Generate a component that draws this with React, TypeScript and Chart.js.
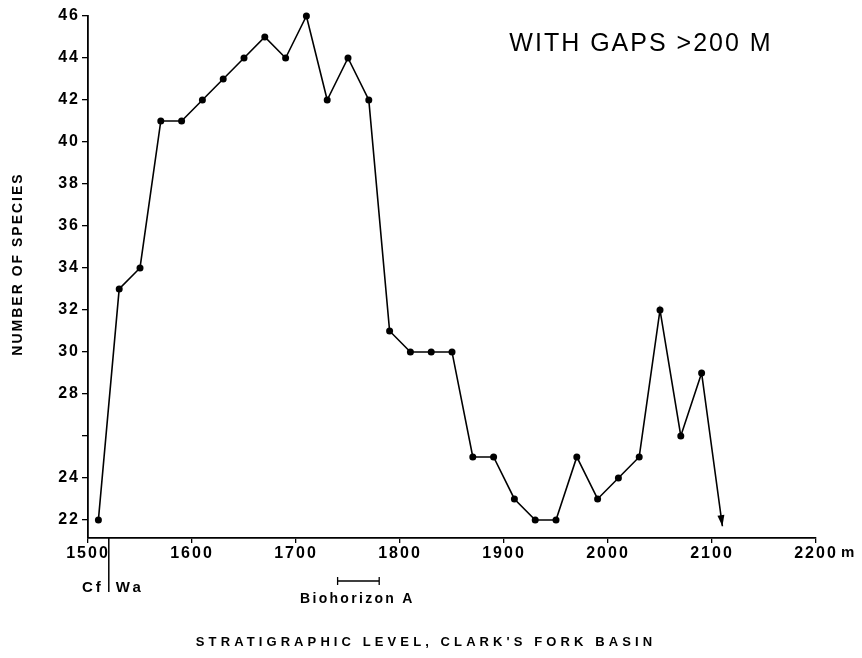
import React, { useEffect, useRef } from "react";
import { Chart, registerables } from "chart.js";
Chart.register(...registerables);

// Stratigraphic level (m) of each sample and number of species
const levels = [1510, 1530, 1550, 1570, 1590, 1610, 1630, 1650, 1670, 1690, 1710, 1730, 1750, 1770, 1790, 1810, 1830, 1850, 1870, 1890, 1910, 1930, 1950, 1970, 1990, 2010, 2030, 2050, 2070, 2090];
const species = [22, 33, 34, 41, 41, 42, 43, 44, 45, 44, 46, 42, 44, 42, 31, 30, 30, 30, 25, 25, 23, 22, 22, 25, 23, 24, 25, 32, 26, 29];
// arrow continuing the series past the last sample
const arrowEndLevel = 2110;
const arrowEndValue = 21.7;

const xTicks = [1500, 1600, 1700, 1800, 1900, 2000, 2100, 2200];
const yTicks = [22, 24, 26, 28, 30, 32, 34, 36, 38, 40, 42, 44, 46];
const yUnlabeled = [26];
const xMin = 1500;
const xMax = 2200;
const yMin = 21.14;
const yMax = 46;

const boundaryLevel = 1520; // Cf | Wa boundary
const biohorizonStart = 1740;
const biohorizonEnd = 1780;

const titleText = "WITH GAPS >200 M";
const xTitle = "STRATIGRAPHIC LEVEL, CLARK'S FORK BASIN";
const yTitle = "NUMBER OF SPECIES";

const FONT = "'Liberation Sans', Arial, Helvetica, sans-serif";

const decor = {
  id: "decor",
  beforeDraw(chart: any) {
    (chart.ctx as any).letterSpacing = "2px";
  },
  afterDraw(chart: any) {
    const { ctx, chartArea } = chart;
    const x = chart.scales.x;
    ctx.save();
    ctx.fillStyle = "#000";
    ctx.strokeStyle = "#000";

    // arrowhead at end of series
    const pts = chart.getDatasetMeta(0).data;
    const last = pts[pts.length - 1];
    const prev = pts[pts.length - 2];
    const ang = Math.atan2(last.y - prev.y, last.x - prev.x);
    const len = 11, hw = 3.5;
    ctx.beginPath();
    ctx.moveTo(last.x, last.y);
    ctx.lineTo(last.x - len * Math.cos(ang) + hw * Math.sin(ang), last.y - len * Math.sin(ang) - hw * Math.cos(ang));
    ctx.lineTo(last.x - len * Math.cos(ang) - hw * Math.sin(ang), last.y - len * Math.sin(ang) + hw * Math.cos(ang));
    ctx.closePath();
    ctx.fill();

    // Cf | Wa boundary
    const bx = x.getPixelForValue(boundaryLevel);
    ctx.lineWidth = 1.5;
    ctx.beginPath();
    ctx.moveTo(bx, chartArea.bottom);
    ctx.lineTo(bx, chartArea.bottom + 54);
    ctx.stroke();
    ctx.font = `bold 15px ${FONT}`;
    (ctx as any).letterSpacing = "3px";
    ctx.textBaseline = "middle";
    ctx.textAlign = "right";
    ctx.fillText("Cf", bx - 5, chartArea.bottom + 50);
    ctx.textAlign = "left";
    ctx.fillText("Wa", bx + 7, chartArea.bottom + 50);

    // Biohorizon A
    const b1 = x.getPixelForValue(biohorizonStart);
    const b2 = x.getPixelForValue(biohorizonEnd);
    const by = chartArea.bottom + 43;
    ctx.lineWidth = 1.3;
    ctx.beginPath();
    ctx.moveTo(b1, by); ctx.lineTo(b2, by);
    ctx.moveTo(b1, by - 4); ctx.lineTo(b1, by + 4);
    ctx.moveTo(b2, by - 4); ctx.lineTo(b2, by + 4);
    ctx.stroke();
    ctx.font = `bold 14px ${FONT}`;
    (ctx as any).letterSpacing = "2.3px";
    ctx.textAlign = "center";
    ctx.fillText("Biohorizon A", (b1 + b2) / 2 - 1, chartArea.bottom + 61);

    // unit "m"
    const ex = x.getPixelForValue(xMax);
    ctx.font = `bold 15px ${FONT}`;
    ctx.textAlign = "left";
    (ctx as any).letterSpacing = "0px";
    ctx.fillText("m", ex + 25, chartArea.bottom + 15);

    // top-right title
    ctx.font = `25px ${FONT}`;
    (ctx as any).letterSpacing = "2px";
    ctx.textAlign = "center";
    ctx.fillText(titleText, 641, 44);

    // x title
    ctx.font = `bold 13px ${FONT}`;
    (ctx as any).letterSpacing = "4.1px";
    ctx.fillText(xTitle, 426, 642);

    // y title
    ctx.save();
    ctx.translate(18, 264);
    ctx.rotate(-Math.PI / 2);
    ctx.font = `bold 14px ${FONT}`;
    (ctx as any).letterSpacing = "2px";
    ctx.fillText(yTitle, 0, 0);
    ctx.restore();

    ctx.restore();
  },
};

export default function App() {
  const ref = useRef<HTMLCanvasElement | null>(null);
  useEffect(() => {
    if (!ref.current) return;
    const data = levels.map((l, i) => ({ x: l, y: species[i] }));
    data.push({ x: arrowEndLevel, y: arrowEndValue });
    const n = data.length;
    const chart = new Chart(ref.current, {
      type: "line",
      data: {
        datasets: [
          {
            data,
            borderColor: "#000",
            backgroundColor: "#000",
            borderWidth: 1.6,
            tension: 0,
            clip: false,
            pointRadius: (c: any) => (c.dataIndex === n - 1 ? 0 : 3.5),
            pointBackgroundColor: "#000",
            pointBorderWidth: 0,
          },
        ],
      },
      options: {
        animation: false,
        responsive: false,
        events: [],
        layout: { padding: { top: 16, right: 46, left: 0, bottom: 0 } },
        plugins: { legend: { display: false }, tooltip: { enabled: false } },
        scales: {
          x: {
            type: "linear",
            min: xMin,
            max: xMax,
            afterBuildTicks: (s: any) => {
              s.ticks = xTicks.map((v) => ({ value: v }));
            },
            afterFit: (s: any) => {
              s.height = 120;
            },
            border: { display: true, color: "#000", width: 1.8 },
            grid: { drawOnChartArea: false, drawTicks: true, tickLength: 5, color: "#000", lineWidth: 1.3 },
            ticks: {
              color: "#000",
              font: { family: FONT, size: 16, weight: "bold" },
              padding: 1,
              maxRotation: 0,
              autoSkip: false,
              callback: (v: any) => String(v),
            },
          },
          y: {
            type: "linear",
            min: yMin,
            max: yMax,
            afterBuildTicks: (s: any) => {
              s.ticks = yTicks.map((v) => ({ value: v }));
            },
            afterFit: (s: any) => {
              s.width = 88;
            },
            border: { display: true, color: "#000", width: 1.8 },
            grid: { drawOnChartArea: false, drawTicks: true, tickLength: 6, color: "#000", lineWidth: 1.3 },
            ticks: {
              color: "#000",
              font: { family: FONT, size: 16, weight: "bold" },
              padding: 2,
              autoSkip: false,
              callback: (v: any) => (yUnlabeled.includes(v) ? "" : String(v)),
            },
          },
        },
      },
      plugins: [decor],
    });
    return () => chart.destroy();
  }, []);
  return (
    <div style={{ position: "fixed", left: 0, top: 0, width: 862, height: 658, background: "#fff" }}>
      <canvas ref={ref} width={862} height={658} style={{ display: "block" }} />
    </div>
  );
}
